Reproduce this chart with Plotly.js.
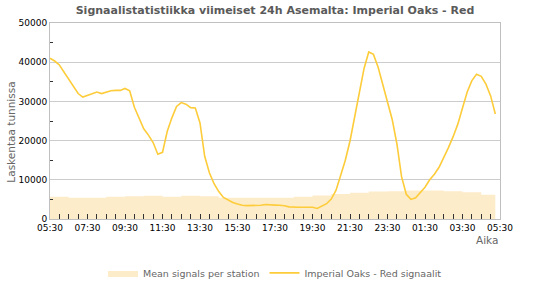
<!DOCTYPE html>
<html>
<head>
<meta charset="utf-8">
<script src="https://cdn.plot.ly/plotly-3.0.1.min.js"></script>
<style>html,body{margin:0;padding:0;background:#fff;}#chart{width:550px;height:300px;}</style>
</head>
<body>
<div id="chart"></div>
<script>
// Signal counts per hour, Imperial Oaks - Red, every 15 minutes from 05:30
const startTime = "2024-01-01 05:30";
const stationSignals = [
  41000, 40300, 39300, 37500, 35400, 33600, 32000, 31100,
  31500, 32000, 32400, 32000, 32400, 32700, 32800, 32800,
  33300, 32700, 28500, 25800, 23000, 21400, 19500, 16500,
  17000, 22300, 25800, 28700, 29700, 29300, 28400, 28300,
  24500, 16000, 11800, 9000, 7000, 5500, 4800, 4200,
  3800, 3500, 3400, 3400, 3400, 3500, 3700, 3700,
  3550, 3500, 3400, 3100, 3000, 3000, 3000, 3000,
  3000, 2700, 3200, 3900, 5100, 7300, 11100, 15000,
  19900, 26100, 32700, 38400, 42600, 42000, 38700, 34100,
  30100, 25400, 19200, 10800, 6300, 5000, 5400, 6800,
  8100, 10000, 11400, 13200, 15500, 18200, 21000, 24200,
  28300, 32400, 35300, 36900, 36400, 34400, 31400, 26800
];
// Mean signals per station, hourly from 05:30 (last value at 05:15)
const meanSignals = [
  5650, 5400, 5400, 5650, 5800, 5900, 5650, 5900,
  5800, 5400, 5400, 5400, 5450, 5700, 6000, 6400,
  6700, 7000, 7100, 7250, 7250, 7050, 6800, 6200, 6200
];
const meanOffsetsMin = [
  0, 60, 120, 180, 240, 300, 360, 420, 480, 540, 600, 660, 720,
  780, 840, 900, 960, 1020, 1080, 1140, 1200, 1260, 1320, 1380, 1425
];
const titleText = "Signaalistatistiikka viimeiset 24h Asemalta: Imperial Oaks - Red";
const yTitle = "Laskentaa tunnissa";
const xTitle = "Aika";
const seriesNames = ["Mean signals per station", "Imperial Oaks - Red signaalit"];

function pad(n){return (n<10?"0":"")+n;}
function fmt(d){return d.getFullYear()+"-"+pad(d.getMonth()+1)+"-"+pad(d.getDate())+" "+pad(d.getHours())+":"+pad(d.getMinutes());}
const t0 = new Date(2024,0,1,5,30);
function at(min){return fmt(new Date(t0.getTime()+min*60000));}
const lineX = stationSignals.map((_,i)=>at(i*15));
const meanX = meanOffsetsMin.map(m=>at(m));

const traces = [
  {x: meanX, y: meanSignals, type:"scatter", mode:"lines", name: seriesNames[0],
   line:{width:0, shape:"hv", color:"#fdebc8"}, fill:"tozeroy", fillcolor:"#fdecc9"},
  {x: lineX, y: stationSignals, type:"scatter", mode:"lines", name: seriesNames[1],
   line:{width:1.6, color:"#fdcc3a"}}
];

const layout = {
  width:550, height:300,
  margin:{l:50, r:50, t:23, b:70},
  paper_bgcolor:"#fff", plot_bgcolor:"#fff",
  font:{family:"DejaVu Sans", size:9, color:"#000"},
  title:{text:titleText, x:0.5, xanchor:"center", y:0.965, yanchor:"middle",
         font:{family:"DejaVu Sans", size:11, color:"#5a5a5a", weight:"bold"}},
  xaxis:{type:"date", range:[at(0), at(1440)], tick0:at(0), dtick:7200000,
         tickformat:"%H:%M", ticks:"inside", ticklen:5, tickcolor:"#333",
         minor:{dtick:1800000, ticks:"inside", ticklen:5, tickcolor:"#333", showgrid:false},
         showgrid:false, showline:true, linecolor:"#c0c0c0", linewidth:1, mirror:true,
         zeroline:false, tickfont:{family:"DejaVu Sans", size:9, color:"#000"}},
  yaxis:{range:[0,50000], dtick:10000, tick0:0, showgrid:true, gridcolor:"#cccccc",
         tickformat:"d", exponentformat:"none",
         ticks:"", tickfont:{family:"DejaVu Sans", size:9, color:"#000"},
         minor:{dtick:5000, ticks:"inside", ticklen:3, tickcolor:"#333", showgrid:false},
         showline:true, linecolor:"#c0c0c0", linewidth:1, mirror:true, zeroline:false},
  showlegend:true,
  legend:{orientation:"h", x:0.5, xanchor:"center", y:-0.275, yanchor:"middle",
          font:{family:"DejaVu Sans", size:9.5, color:"#666"}, bgcolor:"rgba(0,0,0,0)"},
  annotations:[
    {text:xTitle, xref:"paper", yref:"paper", x:1, xanchor:"right", y:-0.107, yanchor:"middle",
     showarrow:false, font:{family:"DejaVu Sans", size:10.5, color:"#666"}},
    {text:yTitle, xref:"paper", yref:"paper", x:-0.087, xanchor:"center", y:0.445, yanchor:"middle",
     textangle:-90, showarrow:false, font:{family:"DejaVu Sans", size:10.5, color:"#666"}}
  ]
};
Plotly.newPlot("chart", traces, layout, {displayModeBar:false, staticPlot:true});
</script>
</body>
</html>
